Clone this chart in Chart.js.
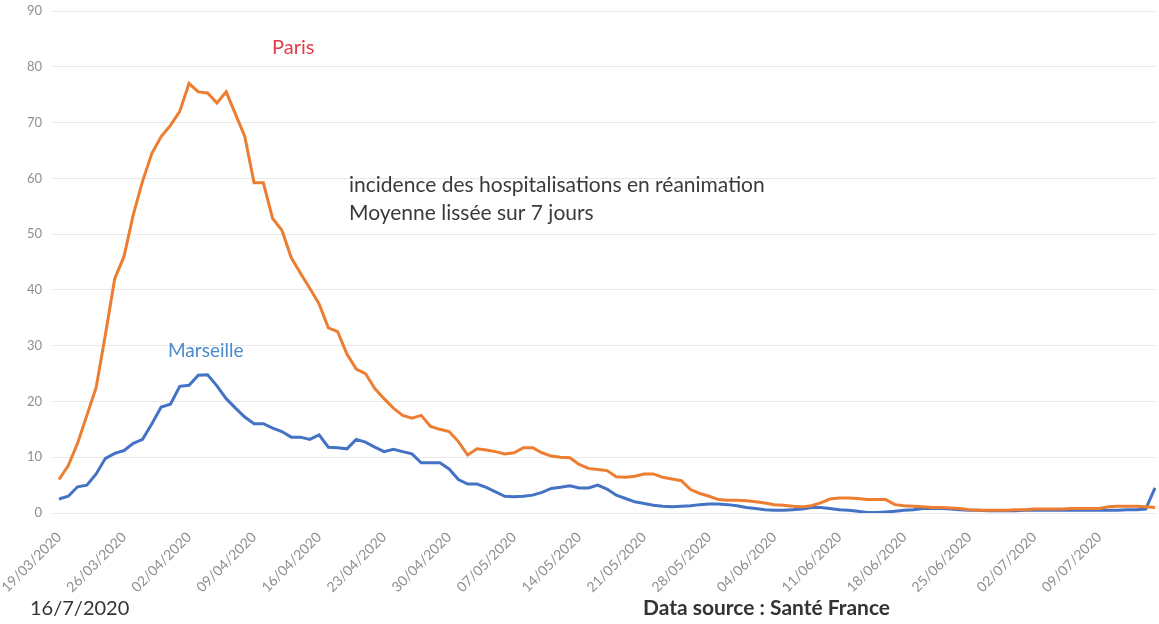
<!DOCTYPE html>
<html>
<head>
<meta charset="utf-8">
<script src="https://cdn.jsdelivr.net/npm/chart.js@4/dist/chart.umd.min.js"></script>
<style>
  html, body { margin: 0; padding: 0; background: #ffffff; }
  #wrap { width: 1159px; height: 624px; position: relative; }
  canvas { display: block; }
</style>
</head>
<body>
<div id="wrap"><canvas id="c" width="1159" height="624"></canvas></div>
<script>
// ---- categories (one per day, 19/03/2020 .. 15/07/2020)
const categories = [
  "19/03/2020","20/03/2020","21/03/2020","22/03/2020","23/03/2020","24/03/2020","25/03/2020","26/03/2020","27/03/2020","28/03/2020","29/03/2020","30/03/2020","31/03/2020",
  "01/04/2020","02/04/2020","03/04/2020","04/04/2020","05/04/2020","06/04/2020","07/04/2020","08/04/2020","09/04/2020","10/04/2020","11/04/2020","12/04/2020","13/04/2020","14/04/2020","15/04/2020","16/04/2020","17/04/2020","18/04/2020","19/04/2020","20/04/2020","21/04/2020","22/04/2020","23/04/2020","24/04/2020","25/04/2020","26/04/2020","27/04/2020","28/04/2020","29/04/2020","30/04/2020",
  "01/05/2020","02/05/2020","03/05/2020","04/05/2020","05/05/2020","06/05/2020","07/05/2020","08/05/2020","09/05/2020","10/05/2020","11/05/2020","12/05/2020","13/05/2020","14/05/2020","15/05/2020","16/05/2020","17/05/2020","18/05/2020","19/05/2020","20/05/2020","21/05/2020","22/05/2020","23/05/2020","24/05/2020","25/05/2020","26/05/2020","27/05/2020","28/05/2020","29/05/2020","30/05/2020","31/05/2020",
  "01/06/2020","02/06/2020","03/06/2020","04/06/2020","05/06/2020","06/06/2020","07/06/2020","08/06/2020","09/06/2020","10/06/2020","11/06/2020","12/06/2020","13/06/2020","14/06/2020","15/06/2020","16/06/2020","17/06/2020","18/06/2020","19/06/2020","20/06/2020","21/06/2020","22/06/2020","23/06/2020","24/06/2020","25/06/2020","26/06/2020","27/06/2020","28/06/2020","29/06/2020","30/06/2020",
  "01/07/2020","02/07/2020","03/07/2020","04/07/2020","05/07/2020","06/07/2020","07/07/2020","08/07/2020","09/07/2020","10/07/2020","11/07/2020","12/07/2020","13/07/2020","14/07/2020","15/07/2020"
];

// ---- tick labels shown on the x axis (weekly)
const tickLabels = [
  "19/03/2020","26/03/2020","02/04/2020","09/04/2020","16/04/2020","23/04/2020","30/04/2020",
  "07/05/2020","14/05/2020","21/05/2020","28/05/2020","04/06/2020","11/06/2020","18/06/2020",
  "25/06/2020","02/07/2020","09/07/2020"
];

// ---- Paris: incidence of ICU admissions, 7-day smoothed average
const paris = [
  6.0, 8.5, 12.5, 17.5, 22.5, 32.0, 42.0, 46.0, 53.5, 59.5, 64.5, 67.5, 69.5,
  72.0, 77.0, 75.5, 75.3, 73.5, 75.5, 71.5, 67.5, 59.2, 59.2, 52.8, 50.7, 45.8, 43.0, 40.3, 37.5, 33.2, 32.5, 28.5, 25.8, 25.0, 22.3, 20.5, 18.8, 17.5, 17.0, 17.5, 15.5, 15.0, 14.6,
  12.8, 10.4, 11.5, 11.3, 11.0, 10.6, 10.8, 11.7, 11.7, 10.8, 10.2, 10.0, 9.9, 8.7, 8.0, 7.8, 7.6, 6.5, 6.4, 6.6, 7.0, 7.0, 6.4, 6.1, 5.8, 4.2, 3.5, 3.0, 2.4, 2.3, 2.3,
  2.2, 2.0, 1.8, 1.5, 1.4, 1.2, 1.1, 1.3, 1.8, 2.5, 2.7, 2.7, 2.6, 2.4, 2.4, 2.4, 1.5, 1.3, 1.2, 1.1, 1.0, 1.0, 0.9, 0.8, 0.6, 0.5,
  0.5, 0.5, 0.5, 0.6, 0.6, 0.7, 0.7, 0.7, 0.7, 0.8, 0.8, 0.8, 0.8, 1.1, 1.2, 1.2, 1.2, 1.1, 1.0
];

// ---- Marseille
const marseille = [
  2.5, 3.0, 4.7, 5.0, 7.0, 9.8, 10.7, 11.2, 12.5, 13.2, 16.0, 19.0, 19.5,
  22.7, 22.9, 24.7, 24.8, 22.8, 20.5, 18.8, 17.2, 16.0, 16.0, 15.2, 14.6, 13.6, 13.6, 13.2, 14.0, 11.8, 11.7, 11.5, 13.2, 12.7, 11.8, 11.0, 11.4, 11.0, 10.6, 9.0, 9.0, 9.0, 7.9,
  6.0, 5.2, 5.2, 4.6, 3.8, 3.0, 2.9, 3.0, 3.2, 3.7, 4.4, 4.6, 4.9, 4.5, 4.5, 5.0, 4.3, 3.2, 2.6, 2.0, 1.7, 1.4, 1.2, 1.1, 1.2, 1.3, 1.5, 1.6, 1.6, 1.5, 1.3,
  1.0, 0.8, 0.6, 0.5, 0.5, 0.6, 0.7, 1.0, 1.0, 0.8, 0.6, 0.5, 0.3, 0.1, 0.1, 0.2, 0.3, 0.5, 0.6, 0.8, 0.8, 0.8, 0.7, 0.6, 0.5, 0.5,
  0.4, 0.4, 0.4, 0.4, 0.5, 0.5, 0.5, 0.5, 0.5, 0.5, 0.5, 0.5, 0.5, 0.5, 0.5, 0.6, 0.6, 0.7, 4.5
];

// ---- y axis
const yMin = 0, yMax = 90, yStep = 10;

// ---- annotation texts
const seriesNames = ["Paris", "Marseille"];
const noteLines = ["incidence des hospitalisations en réanimation", "Moyenne lissée sur 7 jours"];
const dateText = "16/7/2020";
const sourceText = "Data source : Santé France";

const textPlugin = {
  id: 'texts',
  beforeDraw(chart) {
    const ctx = chart.ctx;
    ctx.save();
    ctx.fillStyle = '#ffffff';
    ctx.fillRect(0, 0, chart.width, chart.height);
    ctx.restore();
  },
  afterDraw(chart) {
    const ctx = chart.ctx;
    ctx.save();
    ctx.textBaseline = 'alphabetic';
    ctx.textAlign = 'left';
    // series labels
    ctx.font = '20px Lato';
    ctx.fillStyle = '#e23c46';
    ctx.fillText(seriesNames[0], 272, 54);
    ctx.font = '19px Lato';
    ctx.fillStyle = '#4a8bd0';
    ctx.fillText(seriesNames[1], 168, 357);
    // note
    ctx.font = '21px Lato';
    ctx.fillStyle = '#3a3a3a';
    ctx.fillText(noteLines[0], 349, 192, 421);
    ctx.fillText(noteLines[1], 349, 220, 245);
    // footer
    ctx.font = '20px Lato';
    ctx.fillStyle = '#333333';
    ctx.fillText(dateText, 30, 615);
    ctx.font = 'bold 21px Lato';
    ctx.fillText(sourceText, 643, 615, 247);
    ctx.restore();
  }
};

new Chart(document.getElementById('c'), {
  type: 'line',
  data: {
    labels: categories,
    datasets: [
      { label: seriesNames[0], data: paris, borderColor: '#ED7D31', backgroundColor: '#ED7D31',
        borderWidth: 3, pointRadius: 0, tension: 0, fill: false },
      { label: seriesNames[1], data: marseille, borderColor: '#4472C4', backgroundColor: '#4472C4',
        borderWidth: 3, pointRadius: 0, tension: 0, fill: false }
    ]
  },
  options: {
    responsive: false,
    animation: false,
    devicePixelRatio: 1,
    layout: { padding: { top: 11, right: 4, left: 0, bottom: 0 } },
    plugins: { legend: { display: false }, tooltip: { enabled: false }, title: { display: false } },
    scales: {
      x: {
        type: 'category',
        offset: false,
        grid: { display: false, drawTicks: false },
        border: { display: false },
        ticks: {
          autoSkip: false,
          minRotation: 45,
          maxRotation: 45,
          padding: 16,
          color: '#8f8f8f',
          font: { family: 'Lato', size: 14 },
          callback: function(value, index) {
            const l = categories[index];
            return tickLabels.includes(l) ? l : null;
          }
        },
        afterFit: function(scale) {
          scale.height = 111;
          scale.paddingLeft = 0;
          scale.paddingRight = 0;
        }
      },
      y: {
        min: yMin, max: yMax,
        grid: { color: '#e8e8e8', lineWidth: 1, tickLength: 7, drawTicks: true, tickColor: '#e8e8e8' },
        border: { display: false },
        ticks: {
          stepSize: yStep,
          padding: 10,
          color: '#8f8f8f',
          font: { family: 'Lato', size: 13 }
        },
        afterFit: function(scale) {
          scale.width = 59;
          scale.paddingTop = 0;
          scale.paddingBottom = 0;
        }
      }
    }
  },
  plugins: [textPlugin]
});
</script>
</body>
</html>
